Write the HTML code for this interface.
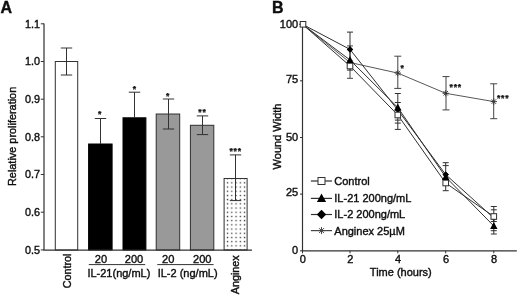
<!DOCTYPE html><html><head><meta charset="utf-8"><title>Figure</title>
<style>html,body{margin:0;padding:0;background:#fff;}svg{display:block;will-change:transform;}text{font-family:"Liberation Sans", Arial, sans-serif;fill:#111;stroke:#111;stroke-width:0.4px;}</style></head><body>
<svg width="520" height="295" viewBox="0 0 520 295">
<defs><pattern id="dots" x="225.4" y="180.7" width="4.25" height="4.2" patternUnits="userSpaceOnUse"><rect x="1.5" y="1.5" width="1.3" height="1.3" fill="#333"/></pattern></defs>
<filter id="soft" x="0" y="0" width="520" height="295" filterUnits="userSpaceOnUse"><feGaussianBlur stdDeviation="0.35"/></filter>
<rect width="520" height="295" fill="#fff"/>
<g filter="url(#soft)">
<text x="0.6" y="12.6" font-size="16" font-weight="bold">A</text>
<rect x="55.3" y="61.5" width="22.4" height="188.5" fill="#fff" stroke="#303030" stroke-width="1"/>
<path d="M66.5 48.0V75.0M60.8 48.0h11.4" stroke="#303030" stroke-width="1" fill="none"/>
<path d="M60.8 75.0h11.4" stroke="#303030" stroke-width="1" fill="none"/>
<rect x="88.6" y="144.0" width="23.5" height="106.0" fill="#000" stroke="#000" stroke-width="1"/>
<path d="M100.5 118.5V144.0M94.8 118.5h11.4" stroke="#303030" stroke-width="1" fill="none"/>
<rect x="123.0" y="117.8" width="22.9" height="132.2" fill="#000" stroke="#000" stroke-width="1"/>
<path d="M134.5 92.2V117.8M128.8 92.2h11.4" stroke="#303030" stroke-width="1" fill="none"/>
<rect x="156.2" y="114.0" width="23.5" height="136.0" fill="#999" stroke="#303030" stroke-width="1"/>
<path d="M168.5 99.0V129.0M162.8 99.0h11.4" stroke="#303030" stroke-width="1" fill="none"/>
<path d="M162.8 129.0h11.4" stroke="#303030" stroke-width="1" fill="none"/>
<rect x="190.4" y="125.3" width="23.4" height="124.7" fill="#999" stroke="#303030" stroke-width="1"/>
<path d="M202.5 115.9V134.6M196.8 115.9h11.4" stroke="#303030" stroke-width="1" fill="none"/>
<path d="M196.8 134.6h11.4" stroke="#303030" stroke-width="1" fill="none"/>
<rect x="224.1" y="178.5" width="23.0" height="71.5" fill="#fff"/>
<rect x="224.1" y="178.5" width="23.0" height="71.5" fill="url(#dots)" stroke="#303030" stroke-width="1"/>
<path d="M235.5 154.9V200.6M229.8 154.9h11.4" stroke="#303030" stroke-width="1" fill="none"/>
<path d="M229.8 200.6h11.4" stroke="#303030" stroke-width="1" fill="none"/>
<path d="M44 23.5V250.1H252" stroke="#303030" stroke-width="1.2" fill="none"/>
<path d="M40.8 23.8H44" stroke="#303030" stroke-width="1"/>
<text x="39.9" y="27.7" font-size="10.8" text-anchor="end">1.1</text>
<path d="M40.8 61.5H44" stroke="#303030" stroke-width="1"/>
<text x="39.9" y="65.4" font-size="10.8" text-anchor="end">1.0</text>
<path d="M40.8 99.2H44" stroke="#303030" stroke-width="1"/>
<text x="39.9" y="103.1" font-size="10.8" text-anchor="end">0.9</text>
<path d="M40.8 136.8H44" stroke="#303030" stroke-width="1"/>
<text x="39.9" y="140.7" font-size="10.8" text-anchor="end">0.8</text>
<path d="M40.8 174.5H44" stroke="#303030" stroke-width="1"/>
<text x="39.9" y="178.4" font-size="10.8" text-anchor="end">0.7</text>
<path d="M40.8 212.2H44" stroke="#303030" stroke-width="1"/>
<text x="39.9" y="216.1" font-size="10.8" text-anchor="end">0.6</text>
<path d="M40.8 249.9H44" stroke="#303030" stroke-width="1"/>
<text x="39.9" y="253.8" font-size="10.8" text-anchor="end">0.5</text>
<text transform="translate(16,136.4) rotate(-90)" font-size="10.9" text-anchor="middle">Relative proliferation</text>
<text transform="translate(71.3,288.3) rotate(-90)" font-size="10.8">Control</text>
<text transform="translate(238.8,294.3) rotate(-90)" font-size="10.8">Anginex</text>
<text x="101.0" y="263.0" font-size="11.1" text-anchor="middle">20</text>
<text x="134.0" y="263.0" font-size="11.1" text-anchor="middle">200</text>
<text x="168.2" y="263.0" font-size="11.1" text-anchor="middle">20</text>
<text x="202.3" y="263.0" font-size="11.1" text-anchor="middle">200</text>
<path d="M88.8 264.6H145.2M157.3 264.6H213.6" stroke="#303030" stroke-width="1"/>
<text x="87.4" y="277.1" font-size="11">IL-21(ng/mL)</text>
<text x="157.7" y="277.1" font-size="11">IL-2 (ng/mL)</text>
<text x="100.1" y="116.8" font-size="8.6" font-weight="bold" text-anchor="middle" letter-spacing="0.8" style="stroke-width:0.25px">*</text>
<text x="134.9" y="92.1" font-size="8.6" font-weight="bold" text-anchor="middle" letter-spacing="0.8" style="stroke-width:0.25px">*</text>
<text x="168.0" y="98.8" font-size="8.6" font-weight="bold" text-anchor="middle" letter-spacing="0.8" style="stroke-width:0.25px">*</text>
<text x="202.4" y="114.9" font-size="8.6" font-weight="bold" text-anchor="middle" letter-spacing="0.8" style="stroke-width:0.25px">**</text>
<text x="235.7" y="154.0" font-size="8.6" font-weight="bold" text-anchor="middle" letter-spacing="0.8" style="stroke-width:0.25px">***</text>
<text x="272" y="12.7" font-size="16" font-weight="bold">B</text>
<path d="M302.5 24V250.8H516.8" stroke="#303030" stroke-width="1.2" fill="none"/>
<path d="M300 24.2H302.5" stroke="#303030" stroke-width="1"/>
<text x="298.2" y="27.5" font-size="11" text-anchor="end">100</text>
<path d="M300 80.8H302.5" stroke="#303030" stroke-width="1"/>
<text x="298.2" y="82.9" font-size="11" text-anchor="end">75</text>
<path d="M300 137.5H302.5" stroke="#303030" stroke-width="1"/>
<text x="298.2" y="140.6" font-size="11" text-anchor="end">50</text>
<path d="M300 194.1H302.5" stroke="#303030" stroke-width="1"/>
<text x="298.2" y="195.9" font-size="11" text-anchor="end">25</text>
<path d="M300 250.8H302.5" stroke="#303030" stroke-width="1"/>
<text x="298.2" y="254.4" font-size="11" text-anchor="end">0</text>
<path d="M302.5 250.8V253.3" stroke="#303030" stroke-width="1"/>
<text x="302.8" y="262.7" font-size="11" text-anchor="middle">0</text>
<path d="M350.0 250.8V253.3" stroke="#303030" stroke-width="1"/>
<text x="350.3" y="262.7" font-size="11" text-anchor="middle">2</text>
<path d="M397.8 250.8V253.3" stroke="#303030" stroke-width="1"/>
<text x="398.1" y="262.7" font-size="11" text-anchor="middle">4</text>
<path d="M445.7 250.8V253.3" stroke="#303030" stroke-width="1"/>
<text x="446.0" y="262.7" font-size="11" text-anchor="middle">6</text>
<path d="M493.8 250.8V253.3" stroke="#303030" stroke-width="1"/>
<text x="494.1" y="262.7" font-size="11" text-anchor="middle">8</text>
<text transform="translate(281,136.5) rotate(-90)" font-size="11" text-anchor="middle">Wound Width</text>
<text x="400.8" y="276.3" font-size="11" text-anchor="middle">Time (hours)</text>
<path d="M350.0 45.9V78.3M347.0 45.9h6.0M347.0 78.3h6.0" stroke="#444" stroke-width="1" fill="none"/>
<path d="M397.8 56.2V88.4M394.3 56.2h7.0M394.3 88.4h7.0" stroke="#444" stroke-width="1" fill="none"/>
<path d="M446.0 76.6V109.9M442.5 76.6h7.0M442.5 109.9h7.0" stroke="#444" stroke-width="1" fill="none"/>
<path d="M493.7 83.8V118.7M490.2 83.8h7.0M490.2 118.7h7.0" stroke="#444" stroke-width="1" fill="none"/>
<path d="M350.0 32.1V70.1M347.0 32.1h6.0M347.0 70.1h6.0" stroke="#303030" stroke-width="1" fill="none"/>
<path d="M397.8 93.5V129.4M394.8 93.5h6.0M394.8 102.5h6.0M394.8 120.1h6.0M394.8 123.1h6.0M394.8 129.4h6.0" stroke="#303030" stroke-width="1" fill="none"/>
<path d="M445.7 162.7V190.7M442.7 162.7h6.0M442.7 165.6h6.0M442.7 190.7h6.0" stroke="#303030" stroke-width="1" fill="none"/>
<path d="M493.8 206.5V234.0M490.8 206.5h6.0M490.8 209.8h6.0M490.8 221.5h6.0M490.8 230.7h6.0M490.8 234.0h6.0" stroke="#303030" stroke-width="1" fill="none"/>
<polyline points="302.5,24.3 350.0,62.5 397.8,73.1 445.7,93.3 493.8,101.6" fill="none" stroke="#444" stroke-width="0.9"/>
<polyline points="302.5,24.3 350.0,66.0 397.8,115.0 445.7,183.0 493.8,216.5" fill="none" stroke="#303030" stroke-width="1"/>
<polyline points="302.5,24.3 350.0,60.0 397.8,107.5 445.7,177.0 493.8,226.0" fill="none" stroke="#303030" stroke-width="1"/>
<polyline points="302.5,24.3 350.0,49.4 397.8,110.0 445.7,174.6 493.8,218.0" fill="none" stroke="#303030" stroke-width="1"/>
<path d="M299.3 24.3h6.4M302.5 21.1v6.4M300.3 22.1l4.5 4.5M300.3 26.5l4.5 -4.5" stroke="#333" stroke-width="0.9" fill="none"/>
<path d="M346.8 62.5h6.4M350.0 59.3v6.4M347.8 60.3l4.5 4.5M347.8 64.7l4.5 -4.5" stroke="#333" stroke-width="0.9" fill="none"/>
<path d="M394.6 73.1h6.4M397.8 69.9v6.4M395.6 70.9l4.5 4.5M395.6 75.3l4.5 -4.5" stroke="#333" stroke-width="0.9" fill="none"/>
<path d="M442.5 93.3h6.4M445.7 90.1v6.4M443.5 91.1l4.5 4.5M443.5 95.5l4.5 -4.5" stroke="#333" stroke-width="0.9" fill="none"/>
<path d="M490.6 101.6h6.4M493.8 98.4v6.4M491.6 99.4l4.5 4.5M491.6 103.8l4.5 -4.5" stroke="#333" stroke-width="0.9" fill="none"/>
<path d="M302.5 21.2L305.6 24.3L302.5 27.4L299.4 24.3Z" fill="#000"/>
<path d="M350.0 46.3L353.1 49.4L350.0 52.5L346.9 49.4Z" fill="#000"/>
<path d="M397.8 106.9L400.9 110.0L397.8 113.1L394.7 110.0Z" fill="#000"/>
<path d="M445.7 171.5L448.8 174.6L445.7 177.7L442.6 174.6Z" fill="#000"/>
<path d="M493.8 214.9L496.9 218.0L493.8 221.1L490.7 218.0Z" fill="#000"/>
<rect x="347.2" y="63.2" width="5.6" height="5.6" fill="#fff" stroke="#303030" stroke-width="1"/>
<rect x="395.0" y="112.2" width="5.6" height="5.6" fill="#fff" stroke="#303030" stroke-width="1"/>
<rect x="442.9" y="180.2" width="5.6" height="5.6" fill="#fff" stroke="#303030" stroke-width="1"/>
<rect x="491.0" y="213.7" width="5.6" height="5.6" fill="#fff" stroke="#303030" stroke-width="1"/>
<path d="M350.0 56.1L353.7 63.0H346.3Z" fill="#000"/>
<path d="M397.8 103.6L401.5 110.5H394.1Z" fill="#000"/>
<path d="M445.7 173.1L449.4 180.0H442.0Z" fill="#000"/>
<path d="M493.8 222.1L497.5 229.0H490.1Z" fill="#000"/>
<path d="M350.0 46.3L353.1 49.4L350.0 52.5L346.9 49.4Z" fill="#000"/>
<path d="M445.7 171.5L448.8 174.6L445.7 177.7L442.6 174.6Z" fill="#000"/>
<rect x="300.2" y="21.5" width="5.6" height="5.6" fill="#fff" stroke="#303030" stroke-width="1"/>
<text x="402.5" y="71.2" font-size="8.6" font-weight="bold" text-anchor="middle" letter-spacing="0.8" style="stroke-width:0.25px">*</text>
<text x="455.8" y="90.3" font-size="8.6" font-weight="bold" text-anchor="middle" letter-spacing="0.8" style="stroke-width:0.25px">***</text>
<text x="503.2" y="100.5" font-size="8.6" font-weight="bold" text-anchor="middle" letter-spacing="0.8" style="stroke-width:0.25px">***</text>
<path d="M310.9 181.0H332.0" stroke="#303030" stroke-width="1.2"/>
<rect x="318.0" y="177.5" width="7.0" height="7.0" fill="#fff" stroke="#303030" stroke-width="1"/>
<text x="334.3" y="184.9" font-size="11">Control</text>
<path d="M310.9 198.4H332.0" stroke="#303030" stroke-width="1.2"/>
<path d="M321.5 193.6L326.1 202.1H316.9Z" fill="#000"/>
<text x="334.3" y="202.3" font-size="11">IL-21 200ng/mL</text>
<path d="M310.9 214.5H332.0" stroke="#303030" stroke-width="1.2"/>
<path d="M321.5 209.8L326.2 214.5L321.5 219.2L316.8 214.5Z" fill="#000"/>
<text x="334.3" y="218.4" font-size="11">IL-2 200ng/mL</text>
<path d="M310.9 230.6H332.0" stroke="#444" stroke-width="1.2"/>
<path d="M318.0 230.6h7.0M321.5 227.1v7.0M319.1 228.2l4.9 4.9M319.1 233.0l4.9 -4.9" stroke="#444" stroke-width="1.0" fill="none"/>
<text x="334.3" y="234.5" font-size="11">Anginex 25µM</text>
</g></svg></body></html>
